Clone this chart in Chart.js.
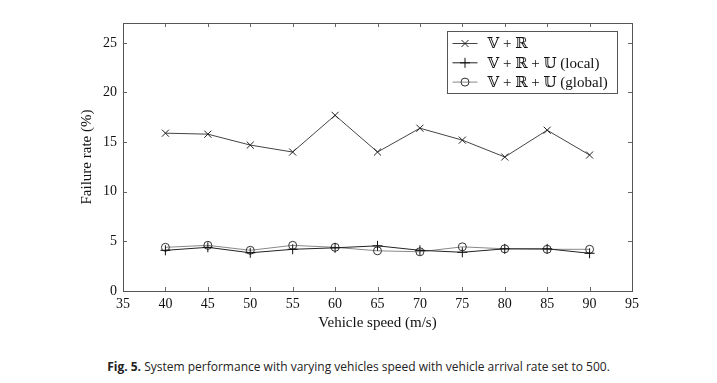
<!DOCTYPE html>
<html>
<head>
<meta charset="utf-8">
<script src="https://cdn.jsdelivr.net/npm/chart.js@4/dist/chart.umd.min.js"></script>
<style>
  html, body { margin: 0; padding: 0; background: #fff; }
  #wrap { position: relative; width: 717px; height: 383px; overflow: hidden; }
  #c { position: absolute; left: 0; top: 0; }
  #cap { position: absolute; left: 0; width: 717px; top: 358px; text-align: center;
         font-family: "Open Sans", "Noto Sans", sans-serif; font-size: 12px; color: #222; white-space: nowrap; }
  #cap b { font-weight: 700; }
</style>
</head>
<body>
<div id="wrap">
  <canvas id="c" width="717" height="345"></canvas>
  <div id="cap"><b>Fig. 5.</b> System performance with varying vehicles speed with vehicle arrival rate set to 500.</div>
</div>
<script>
const speeds = [40, 45, 50, 55, 60, 65, 70, 75, 80, 85, 90];
const seriesVR = [15.9, 15.8, 14.7, 14.0, 17.7, 14.0, 16.4, 15.2, 13.5, 16.2, 13.7];
const seriesLocal = [4.1, 4.4, 3.85, 4.2, 4.35, 4.55, 4.1, 3.9, 4.25, 4.25, 3.8];
const seriesGlobal = [4.4, 4.6, 4.1, 4.6, 4.4, 4.05, 3.95, 4.45, 4.25, 4.2, 4.2];
const seriesNames = ["\u{1D54D} + \u211D", "\u{1D54D} + \u211D + \u{1D54C} (local)", "\u{1D54D} + \u211D + \u{1D54C} (global)"];
const xTicks = [35, 40, 45, 50, 55, 60, 65, 70, 75, 80, 85, 90, 95];
const yTicks = [0, 5, 10, 15, 20, 25];

const SERIF = '"Liberation Serif", "DejaVu Serif", serif';
const toPts = (ys) => speeds.map((x, i) => ({x, y: ys[i]}));

const frame = {
  id: 'frame',
  beforeDatasetsDraw(chart) {
    const {ctx, chartArea: a, scales} = chart;
    ctx.save();
    ctx.strokeStyle = '#666';
    ctx.lineWidth = 1;
    const L = 4;
    ctx.beginPath();
    xTicks.forEach(v => {
      const x = Math.round(scales.x.getPixelForValue(v)) + 0.5;
      ctx.moveTo(x, a.bottom); ctx.lineTo(x, a.bottom - L);
      ctx.moveTo(x, a.top); ctx.lineTo(x, a.top + L);
    });
    yTicks.forEach(v => {
      const y = Math.round(scales.y.getPixelForValue(v)) + 0.5;
      ctx.moveTo(a.left, y); ctx.lineTo(a.left + L, y);
      ctx.moveTo(a.right, y); ctx.lineTo(a.right - L, y);
    });
    ctx.stroke();
    ctx.strokeStyle = '#555';
    ctx.strokeRect(Math.round(a.left) + 0.5, Math.round(a.top) + 0.5, Math.round(a.right - a.left), Math.round(a.bottom - a.top));
    ctx.restore();
  },
  afterDraw(chart) {
    const {ctx, chartArea: a} = chart;
    const w = 170, h = 62;
    const left = Math.round(a.right - 15 - w) + 0.5, top = Math.round(a.top + 8) + 0.5;
    ctx.save();
    ctx.fillStyle = '#fff';
    ctx.fillRect(left, top, w, h);
    ctx.strokeStyle = '#555';
    ctx.lineWidth = 1;
    ctx.strokeRect(left, top, w, h);
    chart.data.datasets.forEach((ds, i) => {
      const y = top + 12 + i * 19.3;
      ctx.strokeStyle = ds.borderColor;
      ctx.lineWidth = 1;
      ctx.beginPath();
      ctx.moveTo(left + 5, y); ctx.lineTo(left + 30, y);
      ctx.stroke();
      ctx.strokeStyle = ds.pointBorderColor;
      ctx.fillStyle = 'rgba(0,0,0,0)';
      Chart.helpers.drawPoint(ctx, {pointStyle: ds.pointStyle, radius: ds.pointRadius, borderWidth: 1, rotation: 0}, left + 17.5, y);
      ctx.fillStyle = '#111';
      ctx.font = '15px ' + SERIF;
      ctx.textBaseline = 'middle';
      ctx.textAlign = 'left';
      ctx.fillText(ds.label, left + 40, y + 1);
    });
    ctx.restore();
  }
};

new Chart(document.getElementById('c'), {
  type: 'line',
  data: {
    datasets: [
      {label: seriesNames[0], data: toPts(seriesVR), borderColor: '#444', pointBorderColor: '#222',
       pointStyle: 'crossRot', pointRadius: 5, pointBorderWidth: 1, borderWidth: 1, backgroundColor: 'rgba(0,0,0,0)', pointBackgroundColor: 'rgba(0,0,0,0)'},
      {label: seriesNames[1], data: toPts(seriesLocal), borderColor: '#222', pointBorderColor: '#111',
       pointStyle: 'cross', pointRadius: 5, pointBorderWidth: 1, borderWidth: 1, backgroundColor: 'rgba(0,0,0,0)', pointBackgroundColor: 'rgba(0,0,0,0)'},
      {label: seriesNames[2], data: toPts(seriesGlobal), borderColor: '#888', pointBorderColor: '#333',
       pointStyle: 'circle', pointRadius: 4, pointBorderWidth: 1, borderWidth: 1, backgroundColor: 'rgba(0,0,0,0)', pointBackgroundColor: 'rgba(0,0,0,0)'}
    ]
  },
  options: {
    responsive: false,
    animation: false,
    devicePixelRatio: 1,
    layout: {padding: {left: 0, top: 23, right: 85, bottom: 0}},
    plugins: {legend: {display: false}, tooltip: {enabled: false}},
    elements: {line: {tension: 0}},
    scales: {
      x: {
        type: 'linear', min: 35, max: 95,
        afterBuildTicks: (s) => { s.ticks = xTicks.map(v => ({value: v})); },
        afterFit: (s) => { s.height = 54; },
        grid: {display: false, drawTicks: false},
        border: {display: false},
        ticks: {padding: 5, color: '#111', font: {family: SERIF, size: 14}, maxRotation: 0, autoSkip: false},
        title: {display: true, text: 'Vehicle speed (m/s)', color: '#111', font: {family: SERIF, size: 15}, padding: {top: 0, bottom: 13}}
      },
      y: {
        type: 'linear', min: 0, max: 27,
        afterBuildTicks: (s) => { s.ticks = yTicks.map(v => ({value: v})); },
        afterFit: (s) => { s.width = 123; },
        grid: {display: false, drawTicks: false},
        border: {display: false},
        ticks: {padding: 6, color: '#111', font: {family: SERIF, size: 14}},
        title: {display: true, text: 'Failure rate (%)', color: '#111', font: {family: SERIF, size: 15}, padding: {top: 78, bottom: 0}}
      }
    }
  },
  plugins: [frame]
});
</script>
</body>
</html>
